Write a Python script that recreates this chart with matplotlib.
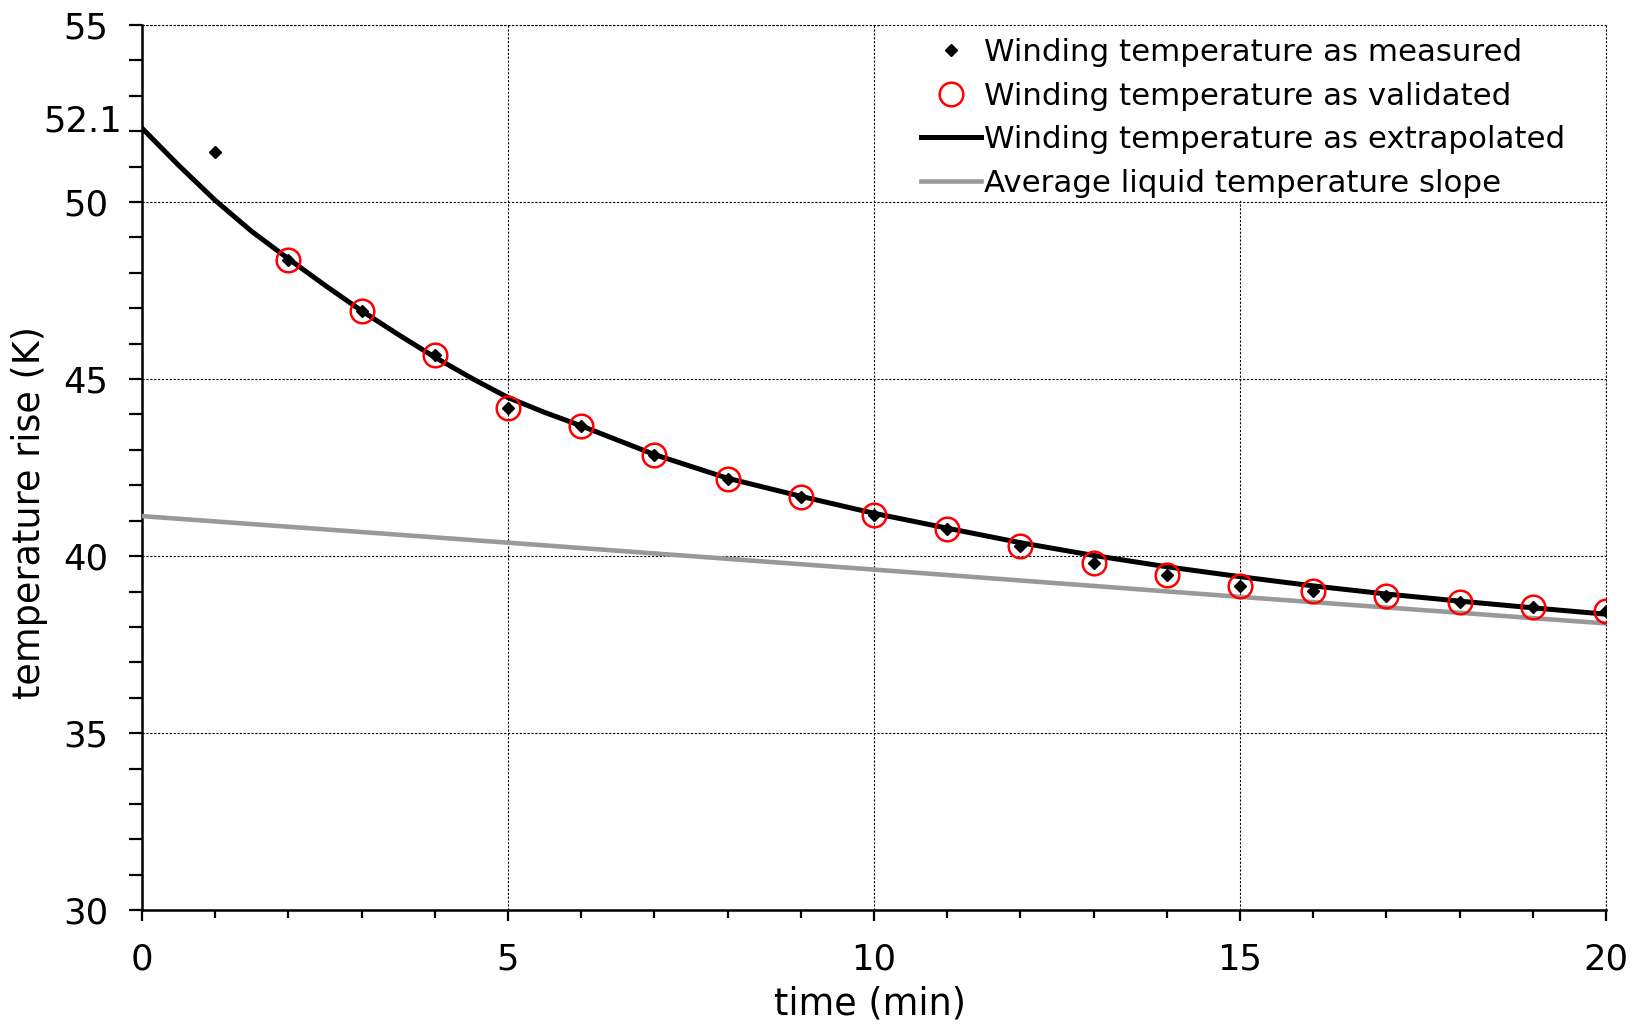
import matplotlib.pyplot as plt
from matplotlib.patches import Rectangle
from matplotlib.ticker import MultipleLocator

plt.rcParams['font.family'] = ['DejaVu Sans']

# measured winding temperature (min, K)
t_meas = [1, 2, 3, 4, 5, 6, 7, 8, 9, 10, 11, 12, 13, 14, 15, 16, 17, 18, 19, 20]
temp_meas = [51.4, 48.37, 46.92, 45.67, 44.19, 43.68, 42.86, 42.17, 41.68, 41.17,
             40.77, 40.29, 39.81, 39.47, 39.17, 39.02, 38.87, 38.70, 38.55, 38.46]

# validated points (first one dropped)
t_valid = t_meas[1:]
temp_valid = temp_meas[1:]

# extrapolated curve
t_extra = [0, 0.5, 1, 1.5, 2, 2.5, 3, 3.5, 4, 4.5, 5, 5.5, 6, 7, 8, 9, 10,
           11, 12, 13, 14, 15, 16, 17, 18, 19, 20]
temp_extra = [52.09, 51.04, 50.05, 49.17, 48.4, 47.65, 46.93, 46.26, 45.62, 45.03,
              44.48, 44.06, 43.68, 42.87, 42.2, 41.69, 41.21, 40.79, 40.38, 40.02,
              39.7, 39.42, 39.16, 38.93, 38.73, 38.54, 38.36]

# average liquid temperature slope
t_liq = [0, 5, 10, 15, 20]
temp_liq = [41.13, 40.38, 39.62, 38.85, 38.1]

fig = plt.figure(figsize=(16.37, 10.25), dpi=100)
ax = fig.add_axes([0.0867, 0.112, 0.8943, 0.8636])

ax.plot(t_extra, temp_extra, color='black', lw=3.6, zorder=4,
        label='Winding temperature as extrapolated')
ax.plot(t_liq, temp_liq, color='#999999', lw=3.3, zorder=3,
        label='Average liquid temperature slope')
ax.plot(t_meas, temp_meas, 'D', color='black', ms=6.5, zorder=5,
        label='Winding temperature as measured')
ax.plot(t_valid, temp_valid, 'o', mfc='none', mec='red', mew=1.8, ms=17, zorder=6,
        label='Winding temperature as validated')

ax.set_xlim(0, 20)
ax.set_ylim(30, 55)
ax.xaxis.set_major_locator(MultipleLocator(5))
ax.xaxis.set_minor_locator(MultipleLocator(1))
ax.yaxis.set_major_locator(MultipleLocator(5))
ax.yaxis.set_minor_locator(MultipleLocator(1))

dash = (0, (2, 1.5))
ax.grid(True, which='major', color='black', ls=dash, lw=0.8, zorder=0.5)
ax.set_axisbelow(True)
ax.spines['top'].set_visible(False)
ax.spines['right'].set_visible(False)
ax.spines['left'].set_linewidth(1.8)
ax.spines['bottom'].set_linewidth(1.8)
ax.tick_params(which='both', direction='out', width=1.6, labelsize=25.5)
ax.tick_params(axis='y', which='both', length=9.4, pad=15)
ax.tick_params(axis='x', which='major', length=8, pad=15)
ax.tick_params(axis='x', which='minor', length=6)

# extra label for the t=0 value
ax.text(-0.273, 52.27, '52.1', fontsize=25.5, ha='right', va='center', clip_on=False)

# white box behind the legend, edge grid lines redrawn above it
ax.add_patch(Rectangle((0.504, 0.801), 0.496, 0.199, transform=ax.transAxes,
                       facecolor='white', edgecolor='none', zorder=1))
ax.axhline(55, color='black', ls=dash, lw=0.8, zorder=2, clip_on=False)
ax.axvline(20, color='black', ls=dash, lw=0.8, zorder=2, clip_on=False)

h, l = ax.get_legend_handles_labels()
order = [2, 3, 0, 1]
ax.legend([h[i] for i in order], [l[i] for i in order], loc='upper left',
          bbox_to_anchor=(0.532, 0.985), frameon=False, fontsize=22.2,
          borderpad=0, borderaxespad=0, handlelength=1.95, handletextpad=0.1,
          labelspacing=0.47)

ax.set_xlabel('time (min)', fontsize=26.3)
ax.set_ylabel('temperature rise (K)', fontsize=26.3)
ax.xaxis.set_label_coords(0.497, -0.085)
ax.yaxis.set_label_coords(-0.064, 0.449)

fig.savefig('out.png', dpi=100)
